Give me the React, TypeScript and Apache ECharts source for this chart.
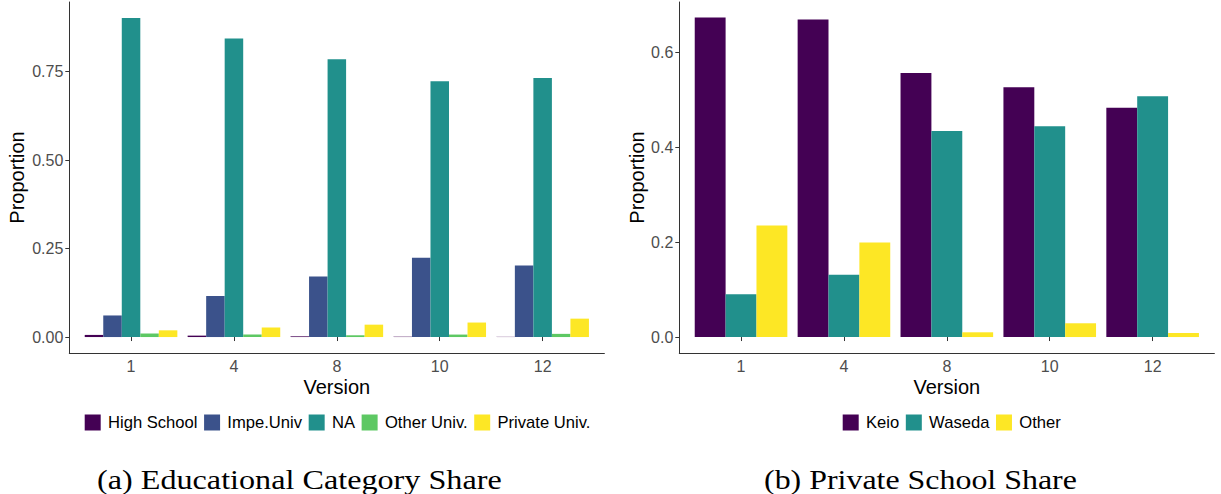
import React, { useEffect, useRef } from "react";
import * as echarts from "echarts";

const versions = ["1", "4", "8", "10", "12"];

const eduNames = ["High School", "Impe.Univ", "NA", "Other Univ.", "Private Univ."];
const eduColors = ["#440154", "#3B528B", "#21908C", "#5DC863", "#FDE725"];
const highSchool = [0.006, 0.004, 0.002, 0.001, 0.0006];
const impeUniv = [0.061, 0.116, 0.171, 0.224, 0.202];
const naShare = [0.902, 0.844, 0.785, 0.723, 0.732];
const otherUniv = [0.010, 0.007, 0.005, 0.007, 0.009];
const privateUniv = [0.019, 0.027, 0.035, 0.041, 0.052];
const eduSeries = [highSchool, impeUniv, naShare, otherUniv, privateUniv];
const eduTicks = [0, 0.25, 0.5, 0.75];

const privNames = ["Keio", "Waseda", "Other"];
const privColors = ["#440154", "#21908C", "#FDE725"];
const keio = [0.673, 0.669, 0.556, 0.526, 0.483];
const waseda = [0.090, 0.131, 0.434, 0.444, 0.507];
const otherPriv = [0.235, 0.199, 0.010, 0.029, 0.0085];
const privSeries = [keio, waseda, otherPriv];
const privTicks = [0, 0.2, 0.4, 0.6];

const captionA = "(a) Educational Category Share";
const captionB = "(b) Private School Share";

const SANS = "Liberation Sans, Arial, Helvetica, sans-serif";
const SERIF = '26.6px "Liberation Serif", "Times New Roman", serif';

export default function App() {
  const ref = useRef<HTMLDivElement>(null);
  useEffect(() => {
    if (!ref.current) return;
    const chart = echarts.init(ref.current, null, { renderer: "svg" });

    const top = 2;
    const height = 351;
    const unit = 102.9;
    const panels = [
      { axisLeft: 69.3, yMin: -0.0451, yMax: 0.9471, ticks: eduTicks, dec: 2, nameGap: 42 },
      { axisLeft: 679.3, yMin: -0.0336, yMax: 0.7056, ticks: privTicks, dec: 1, nameGap: 32 },
    ];

    const grid: any[] = [];
    const xAxis: any[] = [];
    const yAxis: any[] = [];
    panels.forEach((p, i) => {
      grid.push({ left: p.axisLeft + 0.1 * unit, width: 5 * unit, top, height, outerBoundsMode: "none" });
      grid.push({ left: p.axisLeft, width: 5.2 * unit, top, height, outerBoundsMode: "none" });
      xAxis.push({
        gridIndex: 2 * i,
        type: "category",
        data: versions,
        boundaryGap: true,
        axisLine: { show: false },
        axisTick: { show: true, alignWithLabel: true, length: 4, lineStyle: { color: "#333", width: 1 } },
        axisLabel: { fontSize: 16, color: "#4D4D4D", margin: 5, fontFamily: SANS },
        splitLine: { show: false },
      });
      xAxis.push({
        gridIndex: 2 * i + 1,
        type: "value",
        min: 0,
        max: 1,
        axisLine: { show: true, onZero: false, lineStyle: { color: "#333", width: 1 } },
        axisTick: { show: false },
        axisLabel: { show: false },
        splitLine: { show: false },
        name: "Version",
        nameLocation: "middle",
        nameGap: 24,
        nameTextStyle: { fontSize: 20, color: "#000", fontFamily: SANS },
      });
      yAxis.push({
        gridIndex: 2 * i,
        type: "value",
        min: p.yMin,
        max: p.yMax,
        show: false,
        splitLine: { show: false },
      });
      yAxis.push({
        gridIndex: 2 * i + 1,
        type: "value",
        min: p.yMin,
        max: p.yMax,
        axisLine: { show: true, onZero: false, lineStyle: { color: "#333", width: 1 } },
        axisTick: { show: true, length: 4, customValues: p.ticks, lineStyle: { color: "#333", width: 1 } },
        axisLabel: {
          fontSize: 16,
          color: "#4D4D4D",
          margin: 6,
          fontFamily: SANS,
          customValues: p.ticks,
          formatter: (v: number) => v.toFixed(p.dec),
        },
        splitLine: { show: false },
        name: "Proportion",
        nameLocation: "middle",
        nameGap: p.nameGap,
        nameTextStyle: { fontSize: 20, color: "#000", fontFamily: SANS },
      });
    });

    const series: any[] = [];
    eduSeries.forEach((d, k) => {
      series.push({
        type: "bar",
        name: eduNames[k],
        xAxisIndex: 0,
        yAxisIndex: 0,
        data: d,
        barGap: "0%",
        barCategoryGap: "10%",
        itemStyle: { color: eduColors[k] },
      });
    });
    privSeries.forEach((d, k) => {
      series.push({
        type: "bar",
        name: privNames[k],
        xAxisIndex: 2,
        yAxisIndex: 2,
        data: d,
        barGap: "0%",
        barCategoryGap: "10%",
        itemStyle: { color: privColors[k] },
      });
    });

    const legendCommon = {
      orient: "horizontal",
      top: 414,
      padding: 0,
      itemWidth: 16,
      itemHeight: 16,
      itemGap: 6.6,
      icon: "rect",
      selectedMode: false,
      textStyle: { fontSize: 16.6, color: "#000", fontFamily: SANS, padding: [0, 0, 0, 2.3] },
    };

    chart.setOption({
      animation: false,
      backgroundColor: "#fff",
      grid,
      xAxis,
      yAxis,
      series,
      legend: [
        { ...legendCommon, left: 84.7, data: eduNames },
        { ...legendCommon, left: 842.7, data: privNames },
      ],
      graphic: [
        {
          type: "text",
          x: 97,
          y: 493,
          scaleX: 1.21,
          style: {
            text: captionA,
            font: SERIF,
            fill: "#000",
            verticalAlign: "bottom",
          },
        },
        {
          type: "text",
          x: 764,
          y: 493,
          scaleX: 1.2,
          style: {
            text: captionB,
            font: SERIF,
            fill: "#000",
            verticalAlign: "bottom",
          },
        },
      ],
    });
    return () => chart.dispose();
  }, []);
  return (
    <div
      ref={ref}
      style={{ position: "fixed", left: 0, top: 0, width: 1221, height: 494, background: "#fff" }}
    />
  );
}
